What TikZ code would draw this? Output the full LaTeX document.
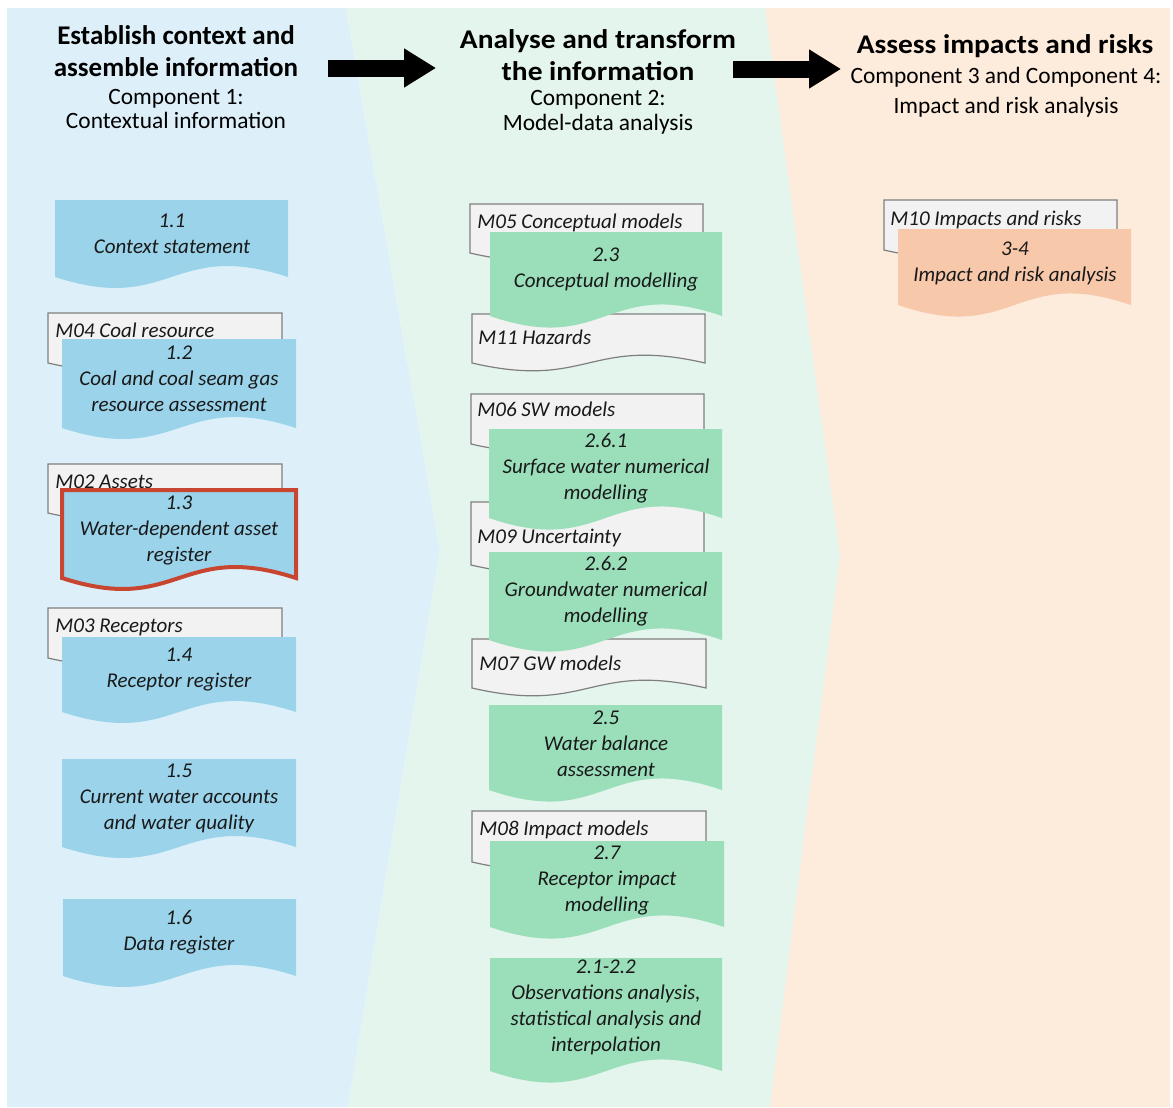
\documentclass[tikz,border=0pt]{standalone}
\usepackage{fontspec}
\setmainfont{Carlito}
\usepackage{tikz}
\usetikzlibrary{arrows.meta}

\definecolor{bgblue}{HTML}{DDF0F9}
\definecolor{bggreen}{HTML}{E3F5EC}
\definecolor{bgpeach}{HTML}{FDEBDC}
\definecolor{boxblue}{HTML}{9AD3EA}
\definecolor{boxgreen}{HTML}{9ADEBA}
\definecolor{boxpeach}{HTML}{F7C8AA}
\definecolor{boxgray}{HTML}{F2F2F2}
\definecolor{linegray}{HTML}{7F7F7F}
\definecolor{markred}{HTML}{C8452F}

\tikzset{
  heading/.style={align=center,font=\fontsize{13.5}{16}\selectfont\bfseries},
  wideheading/.style={heading,xscale=1.09,transform shape},
  component/.style={align=center,font=\fontsize{11.7}{12}\selectfont},
  boxtext/.style={align=center,font=\fontsize{10.5}{13}\selectfont\itshape,text=black!90},
  graytext/.style={anchor=base west,inner sep=0pt,font=\fontsize{10.5}{13}\selectfont\itshape,text=black!90},
  graydoc/.style={fill=boxgray,draw=linegray,line width=0.6pt},
  bigarrow/.style={line width=8.5pt,-{Triangle[length=16pt,width=18.5pt]}}
}

% document shape: left, top, right, wave ends, wave depth
\newcommand{\docbox}[6][]{%
  \path[#1] (#2,#3) -- (#4,#3) -- (#4,#5)
    .. controls ({(#2+#4)/2},{#5-#6}) and ({(#2+#4)/2},{#5+#6}) .. (#2,#5) -- cycle;}

\begin{document}
\begin{tikzpicture}[x=0.5pt,y=-0.5pt]
\useasboundingbox (0,0) rectangle (1173,1108);

	% background chevrons
	\fill[bgblue] (7,8) -- (346,8) -- (440,550) -- (348,1107) -- (7,1107) -- cycle;
	\fill[bggreen] (346,8) -- (765,8) -- (840,555) -- (770,1107) -- (348,1107) -- (440,550) -- cycle;
	\fill[bgpeach] (765,8) -- (1170,8) -- (1170,1107) -- (770,1107) -- (840,555) -- cycle;

	% headings
	\node[heading] (h1) at (176,51) {Establish context and\\assemble information};
	\node[component] (c1) at (176,109) {Component 1:\\Contextual information};
	\node[wideheading] (h2) at (598,55) {Analyse and transform\\the information};
	\node[component,font=\fontsize{11.7}{12.5}\selectfont] (c2) at (598,112) {Component 2:\\Model-data analysis};
	\node[wideheading] (h3) at (1005,46) {Assess impacts and risks};
	\node[component,font=\fontsize{11.7}{15}\selectfont] (c3) at (1006,92) {Component 3 and Component 4:\\Impact and risk analysis};

	% arrows between stages
	\coordinate (a1s) at (328,68);
	\coordinate (a1e) at (436,68);
	\coordinate (a2s) at (733,69);
	\coordinate (a2e) at (841,69);
	\draw[bigarrow] (a1s) -- (a1e);
	\draw[bigarrow] (a2s) -- (a2e);

	% component 1
	\docbox[graydoc]{48}{313}{282}{363}{27}
	\node[graytext] (m04) at (55,337) {M04 Coal resource};
	\docbox[graydoc]{48}{464}{282}{513}{27}
	\node[graytext] (m02) at (55,488) {M02 Assets};
	\docbox[graydoc]{48}{608}{282}{658}{27}
	\node[graytext] (m03) at (55,632) {M03 Receptors};

	\docbox[fill=boxblue]{55}{200}{288}{277}{38}
	\node[boxtext] (b11) at (172,234) {1.1\\Context statement};
	\docbox[fill=boxblue]{62}{339}{296}{428}{38}
	\node[boxtext] (b12) at (179,379) {1.2\\Coal and coal seam gas\\resource assessment};
	\docbox[fill=boxblue,draw=markred,line width=2pt]{62}{490}{296}{578}{38}
	\node[boxtext] (b13) at (179,530) {1.3\\Water-dependent asset\\register};
	\docbox[fill=boxblue]{62}{637}{296}{712}{38}
	\node[boxtext] (b14) at (179,670) {1.4\\Receptor register};
	\docbox[fill=boxblue]{62}{759}{296}{847}{38}
	\node[boxtext] (b15) at (179,798) {1.5\\Current water accounts\\and water quality};
	\docbox[fill=boxblue]{63}{899}{296}{976}{38}
	\node[boxtext] (b16) at (179,932) {1.6\\Data register};

	% component 2
	\docbox[graydoc]{470}{204}{703}{253}{27}
	\node[graytext] (m05) at (477,228) {M05 Conceptual models};
	\docbox[graydoc]{472}{314}{705}{363}{27}
	\node[graytext] (m11) at (478,344) {M11 Hazards};
	\docbox[graydoc]{471}{394}{704}{444}{27}
	\node[graytext] (m06) at (477,416) {M06 SW models};
	\docbox[graydoc]{471}{502}{704}{565}{27}
	\node[graytext] (m09) at (477,543) {M09 Uncertainty};
	\docbox[graydoc]{472}{639}{706}{688}{27}
	\node[graytext] (m07) at (479,670) {M07 GW models};
	\docbox[graydoc]{472}{811}{706}{862}{27}
	\node[graytext] (m08) at (479,835) {M08 Impact models};

	\docbox[fill=boxgreen]{490}{232}{722}{316}{40}
	\node[boxtext] (b23) at (606,269) {2.3\\Conceptual modelling};
	\docbox[fill=boxgreen]{489}{429}{722}{518}{40}
	\node[boxtext] (b261) at (606,468) {2.6.1\\Surface water numerical\\modelling};
	\docbox[fill=boxgreen]{489}{552}{722}{640}{40}
	\node[boxtext] (b262) at (606,591) {2.6.2\\Groundwater numerical\\modelling};
	\docbox[fill=boxgreen]{489}{705}{722}{790}{40}
	\node[boxtext] (b25) at (606,744) {2.5\\Water balance\\assessment};
	\docbox[fill=boxgreen]{490}{841}{724}{927}{40}
	\node[boxtext] (b27) at (607,880) {2.7\\Receptor impact\\modelling};
	\docbox[fill=boxgreen]{490}{958}{722}{1071}{40}
	\node[boxtext] (b21) at (606,1007) {2.1-2.2\\Observations analysis,\\statistical analysis and\\interpolation};

	% components 3 and 4
	\docbox[graydoc]{884}{200}{1117}{250}{27}
	\node[graytext] (m10) at (890,225) {M10 Impacts and risks};
	\docbox[fill=boxpeach]{898}{229}{1131}{305}{40}
	\node[boxtext] (b34) at (1015,263) {3-4\\Impact and risk analysis};

\end{tikzpicture}
\end{document}
